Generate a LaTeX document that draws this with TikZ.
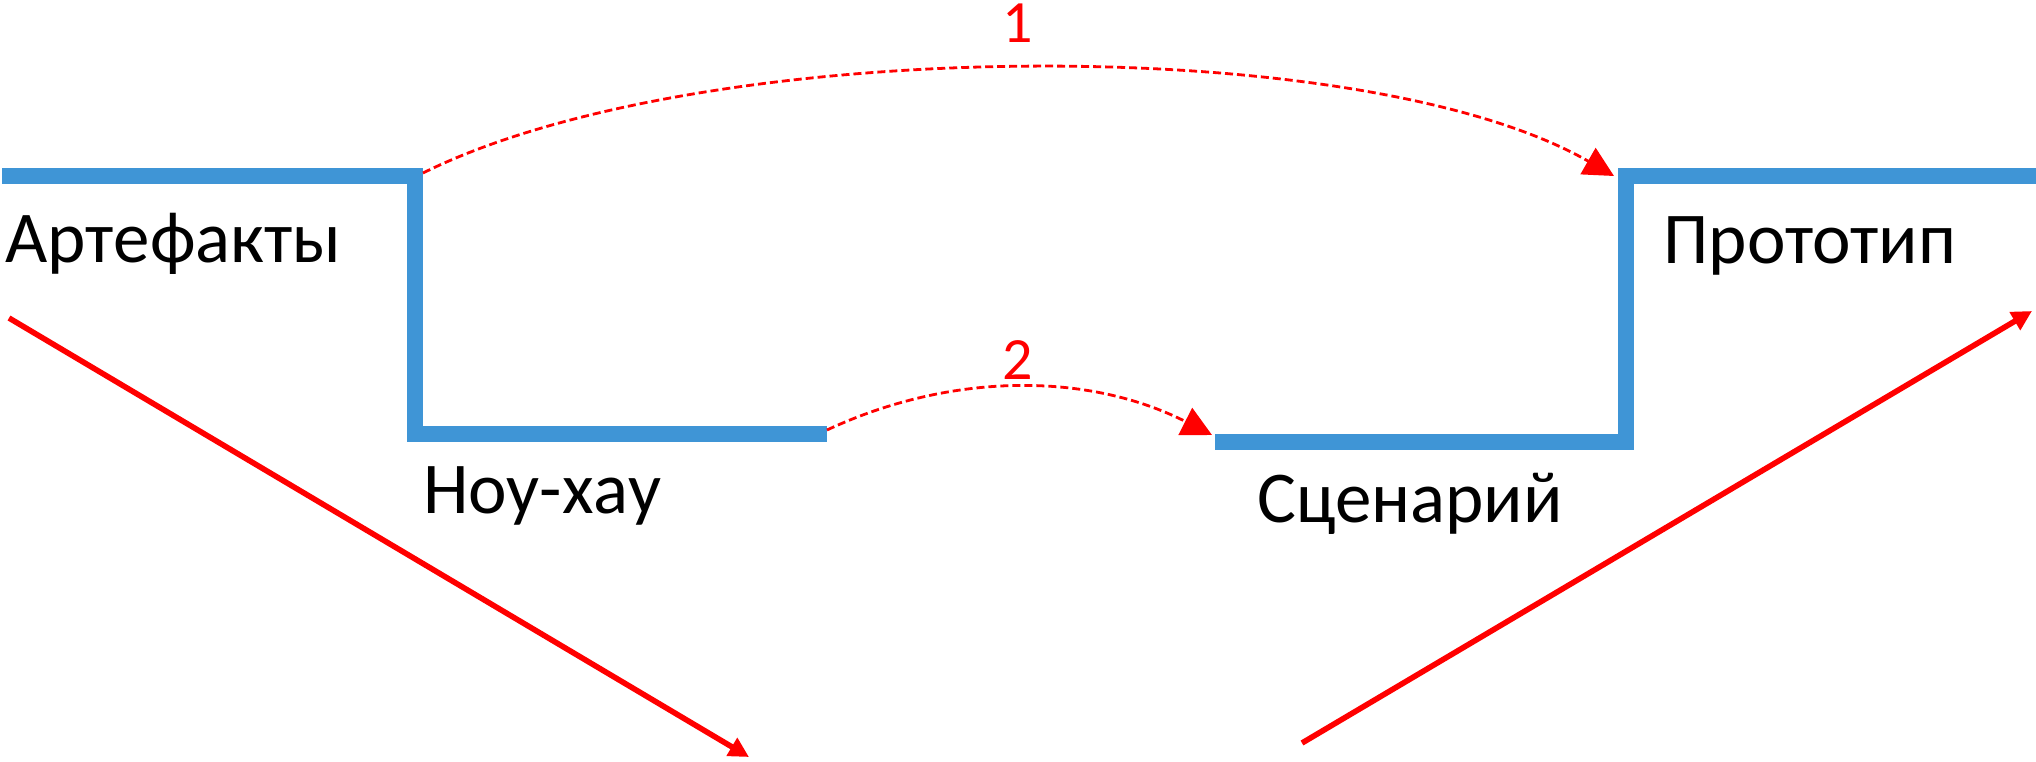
\documentclass[tikz,border=0pt]{standalone}
\usepackage{fontspec}
\setmainfont{Carlito}
\usetikzlibrary{arrows.meta,positioning}
\definecolor{phaseblue}{HTML}{3F95D6}

\begin{document}
\begin{tikzpicture}[
    x=0.5pt, y=-0.5pt,
    phase/.style={draw=phaseblue, line width=8pt, line join=miter},
    stagetext/.style={font=\fontsize{36.5}{44}\selectfont, inner sep=0pt, anchor=base west},
    stepnum/.style={font=\fontsize{30}{36}\selectfont, text=red, inner sep=0pt},
    jump/.style={draw=red, line width=1.4pt, dash pattern=on 4pt off 2pt,
        -{Triangle[length=15pt, width=15pt]}},
    trend/.style={draw=red, line width=2.8pt, -{Triangle[length=10pt, width=10pt]}}
]
\useasboundingbox (0,0) rectangle (2036,761);

% the two steps
\coordinate (art) at (2,176);
\coordinate (artcorner) at (415,176);
\coordinate (noucorner) at (415,434);
\coordinate (nouend) at (827,434);
\coordinate (scenstart) at (1215,442);
\coordinate (scencorner) at (1626,442);
\coordinate (protocorner) at (1626,176);
\coordinate (proto) at (2036,176);

\draw[phase] (art) -- (artcorner) -- (noucorner) -- (nouend);
\draw[phase] (scenstart) -- (scencorner) -- (protocorner) -- (proto);

% stage names
\node[stagetext] (artefacts) at (5,262) {Артефакты};
\node[stagetext] (knowhow) at (423,513) {Ноу-хау};
\node[stagetext] (scenario) at (1257,522) {Сценарий};
\node[stagetext] (prototype) at (1663,263) {Прототип};

% jumps
\node[stepnum] (num1) at (1018,23) {1};
\node[stepnum] (num2) at (1018,360) {2};
\draw[jump] ([shift={(8,-3)}]artcorner) .. controls (700,35) and (1360,30) .. ([shift={(-12,0)}]protocorner);
\draw[jump] ([shift={(0,-4)}]nouend) .. controls (951,372) and (1088,372) .. ([shift={(-3,-7)}]scenstart);

% trends
\coordinate (downfrom) at (9,318);
\coordinate (downto) at (749,757);
\coordinate (upfrom) at (1302,743);
\coordinate (upto) at (2032,311);
\draw[trend] (downfrom) -- (downto);
\draw[trend] (upfrom) -- (upto);

\end{tikzpicture}
\end{document}
